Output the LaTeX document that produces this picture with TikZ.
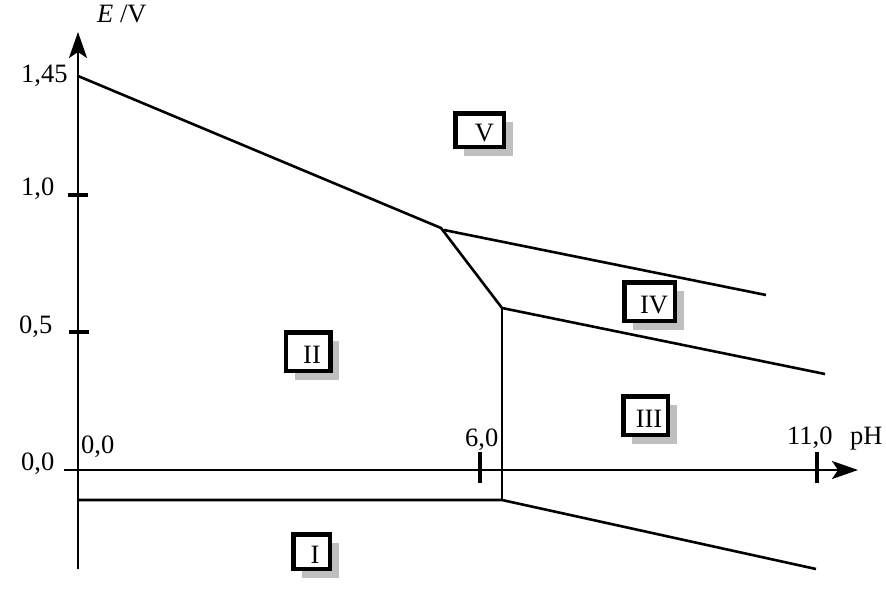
\documentclass[tikz,border=0pt]{standalone}
\usepackage{fontspec}
\setmainfont{Liberation Serif}
\usetikzlibrary{arrows.meta}
\begin{document}
\begin{tikzpicture}[x=1pt,y=-1pt,
  every node/.style={font=\fontsize{26.5}{30}\selectfont},
  axis/.style={line width=2.5pt,-{Stealth[length=26pt,width=18pt,inset=6pt]}},
  tick/.style={line width=3.5pt},
  curve/.style={line width=2.6pt},
  lbl/.style={inner sep=0pt,anchor=base west},
  frame/.style={draw,line width=4.5pt,fill=white,inner sep=0pt},
  shade/.style={fill=black!25,draw=none}]
\useasboundingbox (0,0) rectangle (886,589);
% axes
\coordinate (ybot) at (78,569);
\coordinate (ytop) at (78,32);
\coordinate (xl) at (64,470);
\coordinate (xr) at (858,470);
\draw[axis] (ybot) -- (ytop);
\draw[axis] (xl) -- (xr);
% ticks
\coordinate (t1a) at (68,195); \coordinate (t1b) at (88,195);
\coordinate (t2a) at (69,332); \coordinate (t2b) at (89,332);
\coordinate (t3a) at (480,452); \coordinate (t3b) at (480,483);
\coordinate (t4a) at (817,452); \coordinate (t4b) at (817,483);
\draw[tick] (t1a) -- (t1b);
\draw[tick] (t2a) -- (t2b);
\draw[tick] (t3a) -- (t3b);
\draw[tick] (t4a) -- (t4b);
% labels
\node[lbl] (lE) at (97,23) {\textit{E} /V};
\node[lbl] (l145) at (21,82) {1,45};
\node[lbl] (l10) at (21,195) {1,0};
\node[lbl] (l05) at (19,333) {0,5};
\node[lbl] (l00) at (21,470) {0,0};
\node[lbl] (lx0) at (81,453) {0,0};
\node[lbl] (lx6) at (465,446) {6,0};
\node[lbl] (lx11) at (787,444) {11,0};
\node[lbl] (lpH) at (850,444) {pH};
% phase boundaries
\coordinate (A) at (78,76);
\coordinate (B) at (441,228);
\coordinate (B2) at (444,230);
\coordinate (C) at (766,295);
\coordinate (D) at (502,308);
\coordinate (F) at (825,374);
\coordinate (G) at (502,500);
\coordinate (H) at (78,500);
\coordinate (K) at (816,569);
\draw[curve,line join=round] (A) -- (B) -- (D) -- (F);
\draw[curve] (B2) -- (C);
\draw[curve] (D) -- (G);
\draw[curve] (H) -- (G) -- (K);
% region boxes: shadows
\fill[shade] (308+9-22.25,351.5+9-19.25) rectangle +(44.5,38.5);
\fill[shade] (479.5+9-24.25,130+9-16.75) rectangle +(48.5,33.5);
\fill[shade] (649.5+9-25.25,301.5+9-19.25) rectangle +(50.5,38.5);
\fill[shade] (645.5+9-22.25,415.5+9-19.25) rectangle +(44.5,38.5);
\fill[shade] (311.5+9-18.25,551.5+9-17.25) rectangle +(36.5,34.5);
% region boxes: frames
\node[frame,minimum width=44.5pt,minimum height=38.5pt] (bII) at (308,351.5) {};
\node[frame,minimum width=48.5pt,minimum height=33.5pt] (bV) at (479.5,130) {};
\node[frame,minimum width=50.5pt,minimum height=38.5pt] (bIV) at (649.5,301.5) {};
\node[frame,minimum width=44.5pt,minimum height=38.5pt] (bIII) at (645.5,415.5) {};
\node[frame,minimum width=36.5pt,minimum height=34.5pt] (bI) at (311.5,551.5) {};
\node (tII) at ([shift={(4,3.5)}]bII.center) {II};
\node (tV) at ([shift={(5,3)}]bV.center) {V};
\node (tIV) at ([shift={(4.5,3.5)}]bIV.center) {IV};
\node (tIII) at ([shift={(3.5,3.5)}]bIII.center) {III};
\node (tI) at ([shift={(3.5,3)}]bI.center) {I};
\end{tikzpicture}
\end{document}
